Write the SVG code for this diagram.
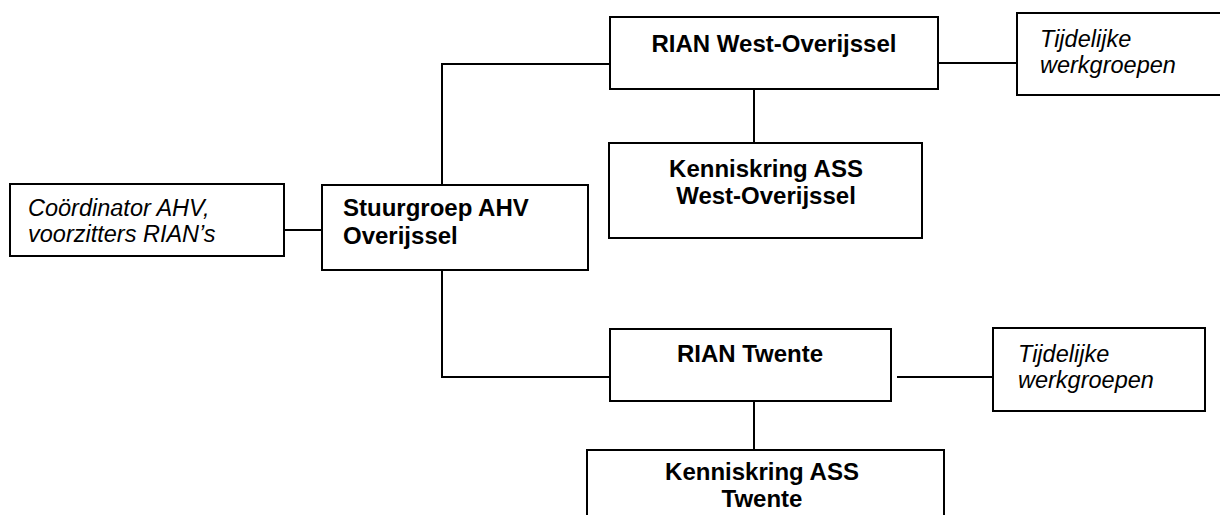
<svg xmlns="http://www.w3.org/2000/svg" width="1220" height="515" viewBox="0 0 1220 515">
<style>
rect{fill:#fff;stroke:#000;stroke-width:2}
.c line,.c polyline{stroke:#000;stroke-width:2;fill:none}
text{font-family:"Liberation Sans",Arial,sans-serif;font-size:23.5px;fill:#000}
.b{font-weight:bold;font-size:24px}
.i{font-style:italic}
.m{text-anchor:middle}
</style>
<rect x="0" y="0" width="1220" height="515" style="stroke:none"/>
<g class="c" id="connectors">
<line x1="284" y1="230" x2="322" y2="230"/>
<polyline points="442,185 442,64 610,64"/>
<polyline points="442,270 442,377 610,377"/>
<line x1="938" y1="63" x2="1017" y2="63"/>
<line x1="754" y1="89" x2="754" y2="143"/>
<line x1="897" y1="377" x2="993" y2="377"/>
<line x1="754" y1="401" x2="754" y2="450"/>
</g>
<g id="coordinator">
<rect x="10" y="184" width="274" height="72"/>
<text class="i" x="28" y="216">Coördinator AHV,</text>
<text class="i" x="28" y="242">voorzitters RIAN’s</text>
</g>
<g id="stuurgroep">
<rect x="322" y="185" width="266" height="85"/>
<text class="b" x="343" y="216">Stuurgroep AHV</text>
<text class="b" x="343" y="244">Overijssel</text>
</g>
<g id="rian-west">
<rect x="610" y="17" width="328" height="72"/>
<text class="b m" x="774" y="52">RIAN West-Overijssel</text>
</g>
<g id="tijdelijk-west">
<rect x="1017" y="13" width="210" height="82"/>
<text class="i" x="1040" y="47">Tijdelijke</text>
<text class="i" x="1040" y="73">werkgroepen</text>
</g>
<g id="kenniskring-west">
<rect x="609" y="143" width="313" height="95"/>
<text class="b m" x="766" y="177">Kenniskring ASS</text>
<text class="b m" x="766" y="204">West-Overijssel</text>
</g>
<g id="rian-twente">
<rect x="610" y="329" width="281" height="72"/>
<text class="b m" x="750" y="362">RIAN Twente</text>
</g>
<g id="tijdelijk-twente">
<rect x="993" y="328" width="212" height="83"/>
<text class="i" x="1018" y="362">Tijdelijke</text>
<text class="i" x="1018" y="388">werkgroepen</text>
</g>
<g id="kenniskring-twente">
<rect x="587" y="450" width="357" height="80"/>
<text class="b m" x="762" y="480">Kenniskring ASS</text>
<text class="b m" x="762" y="507">Twente</text>
</g>
</svg>
